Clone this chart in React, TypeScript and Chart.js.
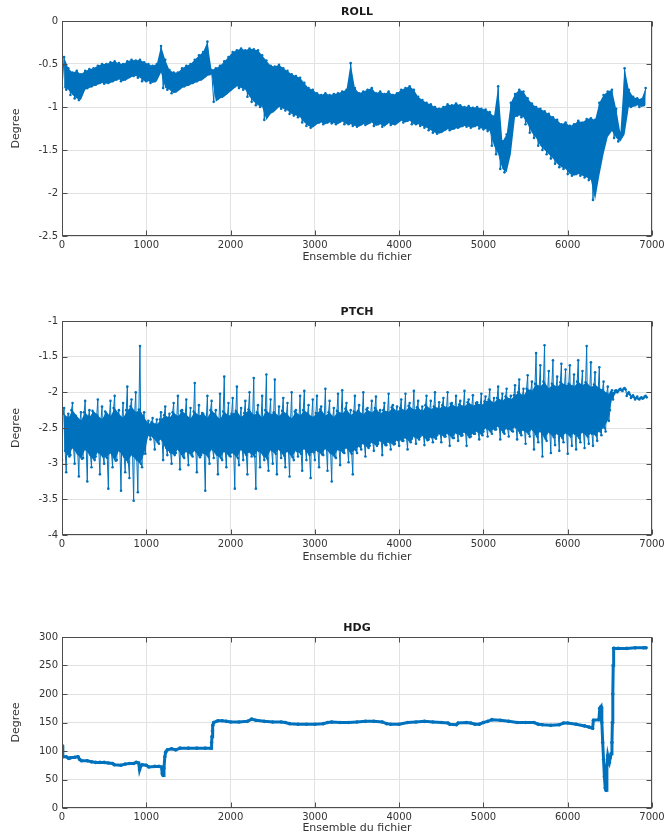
import React, { useEffect, useRef } from 'react';
import { Chart, registerables } from 'chart.js';

Chart.register(...registerables);

const BLUE = '#0072BD';
const FONT = '"DejaVu Sans", sans-serif';

// bin width (samples) for the noisy ROLL / PTCH series
const BIN = 50;

const xTickValues = [0, 1000, 2000, 3000, 4000, 5000, 6000, 7000];

// ROLL: per-bin high / low (bins start at 0, 50, 100, ... 6900)
const rollHi = [
  -0.42, -0.55, -0.60, -0.58, -0.62, -0.58, -0.56, -0.55, -0.52, -0.50,
  -0.50, -0.48, -0.47, -0.49, -0.50, -0.47, -0.45, -0.46, -0.45, -0.48,
  -0.50, -0.52, -0.50, -0.29, -0.45, -0.57, -0.60, -0.60, -0.55, -0.52,
  -0.50, -0.45, -0.40, -0.36, -0.24, -0.57, -0.55, -0.52, -0.47, -0.42,
  -0.36, -0.34, -0.32, -0.34, -0.32, -0.33, -0.34, -0.40, -0.46, -0.52,
  -0.53, -0.51, -0.55, -0.58, -0.62, -0.64, -0.66, -0.72, -0.78, -0.80,
  -0.84, -0.86, -0.84, -0.86, -0.85, -0.84, -0.82, -0.80, -0.49, -0.78,
  -0.84, -0.82, -0.80, -0.78, -0.84, -0.82, -0.85, -0.82, -0.86, -0.84,
  -0.80, -0.78, -0.76, -0.80, -0.88, -0.92, -0.95, -0.97, -1.00, -1.02,
  -1.00, -0.97, -0.98, -0.96, -0.98, -1.00, -0.99, -1.01, -1.00, -1.02,
  -1.03, -1.06, -1.11, -0.76, -1.40, -1.32, -0.95, -0.85, -0.80, -0.82,
  -0.90, -0.96, -1.00, -1.02, -1.05, -1.08, -1.12, -1.15, -1.20, -1.18,
  -1.22, -1.20, -1.16, -1.18, -1.14, -1.13, -1.15, -0.95, -0.86, -0.82,
  -0.80, -1.02, -1.30, -0.55, -0.80, -0.88, -0.90, -0.91, -0.78,
];
const rollLo = [
  -0.78, -0.80, -0.86, -0.90, -0.92, -0.80, -0.78, -0.76, -0.74, -0.72,
  -0.73, -0.72, -0.70, -0.68, -0.70, -0.68, -0.65, -0.64, -0.66, -0.70,
  -0.70, -0.72, -0.70, -0.60, -0.78, -0.80, -0.84, -0.82, -0.78, -0.76,
  -0.74, -0.72, -0.70, -0.68, -0.64, -0.62, -0.94, -0.90, -0.88, -0.84,
  -0.80, -0.76, -0.78, -0.80, -0.88, -0.94, -0.98, -1.00, -1.15, -1.08,
  -1.05, -1.00, -1.02, -1.04, -1.08, -1.10, -1.12, -1.18, -1.22, -1.24,
  -1.20, -1.18, -1.20, -1.18, -1.19, -1.20, -1.17, -1.20, -1.20, -1.22,
  -1.23, -1.20, -1.21, -1.18, -1.22, -1.20, -1.23, -1.19, -1.21, -1.20,
  -1.16, -1.18, -1.16, -1.20, -1.20, -1.22, -1.24, -1.27, -1.30, -1.31,
  -1.29, -1.26, -1.27, -1.25, -1.24, -1.22, -1.23, -1.24, -1.22, -1.25,
  -1.26, -1.28, -1.45, -1.55, -1.72, -1.76, -1.55, -1.12, -1.10, -1.12,
  -1.20, -1.30, -1.36, -1.45, -1.50, -1.55, -1.60, -1.66, -1.70, -1.72,
  -1.78, -1.80, -1.78, -1.80, -1.82, -1.85, -2.08, -1.80, -1.55, -1.35,
  -1.28, -1.36, -1.40, -1.32, -1.00, -1.00, -0.98, -1.00, -0.98,
];

// PTCH: per-bin extremes (incl. spikes)
const ptchHi = [
  -2.22, -2.30, -2.15, -2.38, -2.28, -2.12, -2.25, -2.32, -2.10, -2.20,
  -2.30, -2.12, -2.05, -2.25, -2.15, -1.92, -2.10, -2.00, -1.35, -2.28,
  -2.40, -2.36, -2.38, -2.28, -2.20, -2.30, -2.15, -2.05, -2.25, -2.10,
  -2.22, -1.87, -2.18, -2.30, -2.05, -2.12, -2.25, -2.02, -1.78, -2.15,
  -2.08, -1.92, -2.22, -2.12, -2.00, -1.80, -2.18, -2.05, -1.75, -2.10,
  -1.82, -2.20, -2.08, -2.15, -2.00, -2.25, -2.05, -1.98, -2.18, -2.10,
  -2.05, -2.20, -1.95, -2.12, -2.22, -2.02, -1.97, -2.15, -2.25, -2.05,
  -2.18, -2.00, -2.22, -2.12, -2.06, -2.25, -2.15, -2.02, -2.18, -2.20,
  -2.10, -2.02, -2.15, -1.98, -2.12, -2.20, -2.05, -2.12, -2.00, -2.14,
  -2.08, -2.00, -2.15, -2.05, -2.12, -1.98, -2.10, -2.04, -2.14, -2.02,
  -2.06, -1.96, -2.08, -1.92, -2.02, -1.95, -2.05, -1.90, -1.82, -1.95,
  -1.76, -1.85, -1.45, -1.62, -1.34, -1.70, -1.55, -1.78, -1.60, -1.68,
  -1.62, -1.75, -1.55, -1.70, -1.35, -1.58, -1.72, -1.65, -1.85, -1.92,
  -1.97, -1.97, -1.95, -1.94, -2.00, -2.04, -2.06, -2.07, -2.05,
];
const ptchLo = [
  -2.95, -3.12, -2.88, -3.00, -3.18, -2.92, -3.25, -3.05, -2.90, -3.15,
  -3.00, -3.35, -3.05, -2.95, -3.38, -3.12, -3.20, -3.52, -3.40, -3.05,
  -2.62, -2.66, -2.80, -2.72, -2.95, -2.88, -3.00, -2.85, -3.08, -2.92,
  -3.02, -2.90, -3.12, -2.88, -3.38, -3.00, -2.92, -3.15, -2.95, -3.05,
  -2.90, -3.35, -3.02, -2.95, -3.15, -2.90, -3.35, -3.05, -2.95, -3.10,
  -3.00, -3.15, -2.92, -3.05, -3.18, -2.95, -2.90, -3.10, -2.95, -3.20,
  -2.95, -3.05, -2.88, -3.10, -3.25, -2.92, -3.02, -2.85, -2.98, -3.15,
  -2.85, -2.80, -2.90, -2.75, -2.82, -2.72, -2.88, -2.74, -2.80, -2.72,
  -2.75, -2.68, -2.80, -2.65, -2.72, -2.62, -2.74, -2.66, -2.70, -2.60,
  -2.70, -2.62, -2.75, -2.64, -2.68, -2.60, -2.75, -2.62, -2.58, -2.66,
  -2.55, -2.62, -2.58, -2.52, -2.66, -2.58, -2.62, -2.55, -2.66, -2.60,
  -2.72, -2.62, -2.80, -2.70, -2.90, -2.68, -2.85, -2.74, -2.82, -2.70,
  -2.86, -2.75, -2.80, -2.70, -2.78, -2.72, -2.75, -2.68, -2.60, -2.55,
  -2.25, -2.02, -1.98, -1.98, -2.05, -2.08, -2.10, -2.10, -2.08,
];
// PTCH: per-bin upper / lower edge of the dense core
const ptchMidHi = [
  -2.30, -2.36, -2.25, -2.33, -2.40, -2.28, -2.35, -2.26, -2.32, -2.38,
  -2.27, -2.34, -2.22, -2.30, -2.36, -2.25, -2.20, -2.28, -2.24, -2.35,
  -2.44, -2.42, -2.45, -2.38, -2.32, -2.36, -2.28, -2.34, -2.26, -2.31,
  -2.37, -2.27, -2.33, -2.29, -2.36, -2.25, -2.31, -2.38, -2.27, -2.33,
  -2.30, -2.26, -2.35, -2.29, -2.24, -2.32, -2.28, -2.36, -2.25, -2.31,
  -2.28, -2.34, -2.26, -2.31, -2.37, -2.27, -2.33, -2.25, -2.30, -2.35,
  -2.29, -2.24, -2.33, -2.28, -2.35, -2.26, -2.30, -2.23, -2.32, -2.27,
  -2.26, -2.31, -2.24, -2.29, -2.22, -2.30, -2.25, -2.28, -2.21, -2.27,
  -2.22, -2.26, -2.19, -2.25, -2.21, -2.27, -2.18, -2.24, -2.20, -2.23,
  -2.18, -2.22, -2.16, -2.21, -2.17, -2.20, -2.14, -2.19, -2.15, -2.18,
  -2.13, -2.10, -2.15, -2.08, -2.12, -2.06, -2.10, -2.04, -2.00, -2.05,
  -1.95, -1.98, -1.88, -1.92, -1.85, -1.95, -1.88, -1.93, -1.86, -1.90,
  -1.88, -1.92, -1.85, -1.90, -1.86, -1.93, -1.89, -1.94, -1.97, -2.02,
  -2.00, -1.98, -1.96, -1.95, -2.02, -2.06, -2.08, -2.08, -2.06,
];
const ptchMidLo = [
  -2.82, -2.90, -2.78, -2.86, -2.93, -2.80, -2.88, -2.95, -2.84, -2.90,
  -2.92, -2.85, -2.96, -2.82, -2.90, -2.98, -2.88, -2.94, -3.00, -2.86,
  -2.60, -2.63, -2.70, -2.66, -2.78, -2.84, -2.88, -2.80, -2.90, -2.83,
  -2.88, -2.82, -2.91, -2.85, -2.90, -2.80, -2.87, -2.92, -2.83, -2.89,
  -2.85, -2.92, -2.80, -2.88, -2.84, -2.90, -2.82, -2.87, -2.93, -2.81,
  -2.86, -2.80, -2.89, -2.83, -2.91, -2.82, -2.86, -2.79, -2.88, -2.84,
  -2.82, -2.87, -2.79, -2.85, -2.90, -2.80, -2.84, -2.78, -2.86, -2.81,
  -2.76, -2.72, -2.78, -2.70, -2.75, -2.68, -2.74, -2.70, -2.73, -2.67,
  -2.68, -2.64, -2.70, -2.62, -2.66, -2.60, -2.67, -2.63, -2.65, -2.58,
  -2.62, -2.58, -2.64, -2.57, -2.61, -2.56, -2.63, -2.58, -2.55, -2.60,
  -2.50, -2.55, -2.52, -2.48, -2.56, -2.51, -2.54, -2.49, -2.57, -2.53,
  -2.58, -2.52, -2.62, -2.55, -2.65, -2.56, -2.63, -2.58, -2.64, -2.57,
  -2.62, -2.58, -2.64, -2.56, -2.62, -2.58, -2.60, -2.55, -2.50, -2.40,
  -2.10, -2.00, -1.97, -1.96, -2.03, -2.07, -2.09, -2.09, -2.07,
];

// HDG: sample index / heading
const hdgX = [
  0, 10, 50, 80, 100, 150, 190, 210, 230, 300, 350, 400, 450, 500, 550, 600, 620, 700, 750, 800,
  850, 880, 910, 920, 930, 950, 1000, 1030, 1100, 1150, 1180, 1190, 1200, 1210, 1220, 1230, 1250, 1300, 1350, 1400,
  1500, 1600, 1700, 1770, 1775, 1780, 1785, 1790, 1800, 1850, 1900, 1950, 2000, 2100, 2200, 2250, 2300, 2400, 2500, 2600,
  2650, 2700, 2800, 2900, 3000, 3100, 3150, 3200, 3300, 3400, 3500, 3600, 3700, 3800, 3850, 3900, 4000, 4100, 4200, 4300,
  4400, 4500, 4580, 4600, 4680, 4700, 4800, 4850, 4900, 4950, 5000, 5050, 5100, 5200, 5300, 5400, 5500, 5600, 5650, 5700,
  5800, 5900, 5950, 6000, 6100, 6200, 6250, 6295, 6305, 6370, 6380, 6395, 6405, 6415, 6425, 6435, 6445, 6455, 6465, 6475,
  6485, 6495, 6505, 6515, 6525, 6530, 6535, 6540, 6545, 6550, 6600, 6700, 6800, 6900, 6930,
];
const hdgY = [
  110, 90, 90, 87, 88, 89, 90, 85, 83, 83, 81, 80, 80, 80, 79, 78, 76, 75, 77, 78,
  78, 80, 79, 67, 72, 76, 75, 72, 73, 73, 72, 60, 57, 70, 90, 98, 102, 104, 102, 105,
  105, 105, 105, 105, 115, 125, 135, 145, 150, 153, 153, 152, 151, 151, 152, 156, 154, 152, 151, 151,
  150, 148, 147, 147, 147, 148, 150, 151, 150, 150, 151, 152, 152, 151, 148, 147, 147, 150, 151, 152,
  151, 150, 149, 147, 146, 149, 150, 149, 147, 147, 150, 152, 155, 154, 152, 150, 150, 150, 147, 146,
  145, 146, 149, 149, 147, 144, 142, 140, 154, 155, 175, 178, 150, 115, 85, 55, 35, 31, 75, 92,
  85, 80, 88, 95, 115, 150, 200, 250, 280, 280, 280, 280, 281, 281, 281,
];

type Pt = { x: number; y: number };

function zigzag(hi: number[], lo: number[]): Pt[] {
  const pts: Pt[] = [];
  for (let i = 0; i < hi.length; i++) {
    pts.push({ x: i * BIN, y: lo[i] });
    pts.push({ x: i * BIN + BIN / 2, y: hi[i] });
  }
  return pts;
}

function zigzag4(hi: number[], lo: number[], midHi: number[], midLo: number[]): Pt[] {
  const pts: Pt[] = [];
  for (let i = 0; i < hi.length; i++) {
    pts.push({ x: i * BIN, y: lo[i] });
    pts.push({ x: i * BIN + BIN / 4, y: midHi[i] });
    pts.push({ x: i * BIN + BIN / 2, y: hi[i] });
    pts.push({ x: i * BIN + (3 * BIN) / 4, y: midLo[i] });
  }
  return pts;
}

function binned(vals: number[]): Pt[] {
  return vals.map((y, i) => ({ x: i * BIN + BIN / 2, y }));
}

function pairs(xs: number[], ys: number[]): Pt[] {
  return xs.map((x, i) => ({ x, y: ys[i] }));
}

function seriesDs(points: Pt[], lineWidth: number, pointRadius: number) {
  return {
    data: points,
    borderColor: BLUE,
    backgroundColor: BLUE,
    pointBackgroundColor: BLUE,
    pointBorderColor: BLUE,
    pointBorderWidth: 0,
    pointRadius,
    borderWidth: lineWidth,
    fill: false,
    tension: 0,
  };
}

function bandDs(upper: Pt[], lower: Pt[]) {
  return [
    { data: upper, borderWidth: 0, pointRadius: 0, fill: false, borderColor: BLUE, tension: 0 },
    { data: lower, borderWidth: 0, pointRadius: 0, fill: '-1', backgroundColor: BLUE, borderColor: BLUE, tension: 0 },
  ];
}

function makeFramePlugin(title: string) {
  return {
    id: 'frame',
    afterDraw(chart: any) {
      const { ctx, chartArea: a, scales } = chart;
      ctx.save();
      ctx.strokeStyle = '#4d4d4d';
      ctx.lineWidth = 1;
      const l = Math.round(a.left) + 0.5;
      const t = Math.round(a.top) + 0.5;
      const r = Math.round(a.right) - 0.5;
      const b = Math.round(a.bottom) - 0.5;
      ctx.strokeRect(l, t, r - l, b - t);
      const L = 5;
      ctx.beginPath();
      scales.x.ticks.forEach((tk: any) => {
        const px = Math.round(scales.x.getPixelForValue(tk.value)) + 0.5;
        ctx.moveTo(px, b);
        ctx.lineTo(px, b - L);
        ctx.moveTo(px, t);
        ctx.lineTo(px, t + L);
      });
      scales.y.ticks.forEach((tk: any) => {
        const py = Math.round(scales.y.getPixelForValue(tk.value)) + 0.5;
        ctx.moveTo(l, py);
        ctx.lineTo(l + L, py);
        ctx.moveTo(r, py);
        ctx.lineTo(r - L, py);
      });
      ctx.stroke();
      ctx.fillStyle = '#1a1a1a';
      ctx.font = 'bold 11px ' + FONT;
      ctx.textAlign = 'center';
      ctx.textBaseline = 'middle';
      ctx.fillText(title, (a.left + a.right) / 2, a.top - 9);
      ctx.restore();
    },
  };
}

type PanelProps = {
  top: number;
  height: number;
  title: string;
  yMin: number;
  yMax: number;
  yStep: number;
  xAxisHeight: number;
  xTitlePad: number;
  datasets: any[];
};

function Panel(p: PanelProps) {
  const ref = useRef<HTMLCanvasElement>(null);
  useEffect(() => {
    if (!ref.current) return;
    const chart = new Chart(ref.current, {
      type: 'line',
      data: { datasets: p.datasets },
      options: {
        animation: false,
        responsive: false,
        maintainAspectRatio: false,
        devicePixelRatio: 1,
        layout: { padding: { top: 21, right: 17, left: 0, bottom: 0 } },
        plugins: {
          legend: { display: false },
          tooltip: { enabled: false },
          title: { display: false },
          filler: { propagate: false },
        },
        scales: {
          x: {
            type: 'linear',
            min: 0,
            max: 7000,
            afterBuildTicks: (s: any) => {
              s.ticks = xTickValues.map((v) => ({ value: v }));
            },
            ticks: {
              callback: (v: any) => String(v),
              color: '#333333',
              font: { family: FONT, size: 10 },
              padding: 3,
              maxRotation: 0,
              autoSkip: false,
            },
            grid: { color: '#e2e2e2', drawTicks: false },
            border: { display: false },
            title: {
              display: true,
              text: 'Ensemble du fichier',
              color: '#333333',
              font: { family: FONT, size: 11 },
              padding: { top: 0, bottom: p.xTitlePad },
            },
            afterFit: (s: any) => {
              s.height = p.xAxisHeight;
              s.paddingLeft = 0;
              s.paddingRight = 0;
            },
          },
          y: {
            type: 'linear',
            min: p.yMin,
            max: p.yMax,
            ticks: {
              stepSize: p.yStep,
              callback: (v: any) => String(Math.round(Number(v) * 100) / 100),
              color: '#333333',
              font: { family: FONT, size: 10 },
              padding: 4,
            },
            grid: { color: '#e2e2e2', drawTicks: false },
            border: { display: false },
            title: {
              display: true,
              text: 'Degree',
              color: '#333333',
              font: { family: FONT, size: 11 },
              padding: { top: 10, bottom: 0 },
            },
            afterFit: (s: any) => {
              s.width = 62;
              s.paddingTop = 0;
              s.paddingBottom = 0;
            },
          },
        },
      } as any,
      plugins: [makeFramePlugin(p.title)],
    });
    return () => chart.destroy();
  }, []);
  return (
    <canvas
      ref={ref}
      width={669}
      height={p.height}
      style={{ position: 'absolute', left: 0, top: p.top, width: 669, height: p.height }}
    />
  );
}

export default function App() {
  const rollSets = [
    ...bandDs(binned(rollHi), binned(rollLo)),
    seriesDs(zigzag(rollHi, rollLo), 1, 1.3),
  ];
  const ptchSets = [
    ...bandDs(binned(ptchMidHi), binned(ptchMidLo)),
    seriesDs(zigzag4(ptchHi, ptchLo, ptchMidHi, ptchMidLo), 1, 1.3),
  ];
  const hdgSets = [seriesDs(pairs(hdgX, hdgY), 3, 1.8)];
  return (
    <div style={{ position: 'absolute', left: 0, top: 0, width: 669, height: 838, background: '#ffffff' }}>
      <Panel top={0} height={270} title="ROLL" yMin={-2.5} yMax={0} yStep={0.5} xAxisHeight={34} xTitlePad={6} datasets={rollSets} />
      <Panel top={300} height={270} title="PTCH" yMin={-4} yMax={-1} yStep={0.5} xAxisHeight={35} xTitlePad={6} datasets={ptchSets} />
      <Panel top={616} height={222} title="HDG" yMin={0} yMax={300} yStep={50} xAxisHeight={30} xTitlePad={3} datasets={hdgSets} />
    </div>
  );
}
